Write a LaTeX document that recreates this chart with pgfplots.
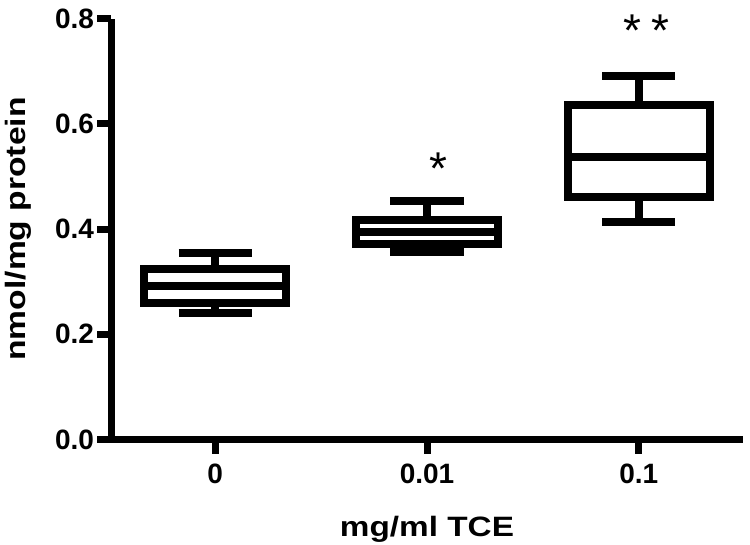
\documentclass[border=0pt]{standalone}
\usepackage{fontspec}
\setmainfont{Liberation Sans}
\usepackage{pgfplots}
\pgfplotsset{compat=1.18}
\usepgfplotslibrary{statistics}
\begin{document}
\begin{tikzpicture}
\begin{axis}[
  at={(0,0)}, anchor=south west,
  scale only axis, width=631bp, height=421bp,
  xmin=-0.49, xmax=2.49, ymin=0, ymax=0.8,
  axis x line*=bottom, axis y line*=left,
  axis line style={line width=7bp, -, black},
  xtick={0,1,2}, xticklabels={0,0.01,0.1},
  ytick={0,0.2,0.4,0.6,0.8}, yticklabels={0.0,0.2,0.4,0.6,0.8},
  tick align=outside, major tick length=14bp,
  tick style={line width=7bp, black},
  every tick label/.append style={font=\bfseries\fontsize{28bp}{30bp}\selectfont},
  xticklabel style={yshift=-7bp},
  xlabel={\scalebox{1.19}[1]{mg/ml TCE}},
  xlabel style={at={(axis description cs:0.5,-0.23159)}, anchor=base, inner sep=0pt, font=\bfseries\fontsize{28bp}{30bp}\selectfont},
  ylabel={\scalebox{1.2}[1]{nmol/mg protein}},
  ylabel style={at={(axis description cs:-0.14739,0.5)}, anchor=center, inner sep=0pt, font=\bfseries\fontsize{28bp}{30bp}\selectfont},
  boxplot/draw direction=y,
  clip=false,
]
\addplot[draw=black, line width=8bp, boxplot prepared={draw position=0, lower whisker=0.240, lower quartile=0.260, median=0.292, upper quartile=0.324, upper whisker=0.355, box extend=0.67, whisker extend=0.345}] coordinates {};
\addplot[draw=black, line width=8bp, boxplot prepared={draw position=1, lower whisker=0.357, lower quartile=0.372, median=0.394, upper quartile=0.418, upper whisker=0.4535, box extend=0.67, whisker extend=0.345}] coordinates {};
\addplot[draw=black, line width=8bp, boxplot prepared={draw position=2, lower whisker=0.413, lower quartile=0.461, median=0.536, upper quartile=0.636, upper whisker=0.691, box extend=0.67, whisker extend=0.345}] coordinates {};
\node[anchor=base, inner sep=0pt, font=\fontsize{46bp}{46bp}\selectfont] at (axis cs:1.053,0.485) {*};
\node[anchor=base, inner sep=0pt, font=\fontsize{46bp}{46bp}\selectfont] at (axis cs:2.035,0.747) {*\kern10bp*};
\end{axis}
\pgfresetboundingbox
\path[use as bounding box] (-111.5bp,-105.5bp) rectangle (638.5bp,439.5bp);
\end{tikzpicture}
\end{document}
